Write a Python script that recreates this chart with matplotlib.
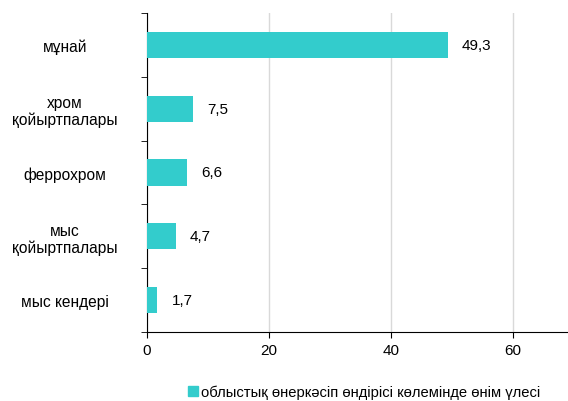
import matplotlib.pyplot as plt
from matplotlib.patches import Patch

plt.rcParams['font.family'] = ['Liberation Sans', 'DejaVu Sans']
plt.rcParams['font.size'] = 10

categories = ['мұнай', 'хром\nқойыртпалары', 'феррохром', 'мыс\nқойыртпалары', 'мыс кендері']
values = [49.3, 7.5, 6.6, 4.7, 1.7]
labels = ['49,3', '7,5', '6,6', '4,7', '1,7']
legend_label = 'облыстық өнеркәсіп өндірісі көлемінде өнім үлесі'
color = '#33CCCC'

fig = plt.figure(figsize=(5.68, 4.02), dpi=100)
ax = fig.add_axes([147/568, 1 - 333/402, (568-147)/568, (333-14)/402])

y = list(range(len(categories)))[::-1]
ax.barh(y, values, height=0.41, color=color, zorder=3)
for yi, v, lab in zip(y, values, labels):
    ax.text(v + 2.3, yi, lab, va='center', ha='left', fontsize=11)

ax.set_ylim(-0.5, len(categories) - 0.5)
ax.set_xlim(0, 69)
ax.set_xticks([0, 20, 40, 60])
ax.set_yticks(y)
ax.set_yticklabels(categories, ha='center', fontsize=11.2, linespacing=1.15)
ax.tick_params(axis='y', length=0, pad=59)
# ticks at category boundaries on left
ax.set_yticks([i - 0.5 for i in range(len(categories) + 1)], minor=True)
ax.tick_params(axis='y', which='minor', length=4, direction='out')
ax.tick_params(axis='x', length=4, labelsize=11, pad=4)
ax.grid(axis='x', color='#d9d9d9', linewidth=1, zorder=0)
ax.spines['top'].set_visible(False)
ax.spines['right'].set_visible(False)

fig.legend(handles=[Patch(color=color, label=legend_label)], loc='center',
           bbox_to_anchor=(364/568, 1 - 393/402), frameon=False, fontsize=10.6,
           handlelength=0.7, handleheight=0.7, handletextpad=0.2)

plt.savefig('out.png', dpi=100)
